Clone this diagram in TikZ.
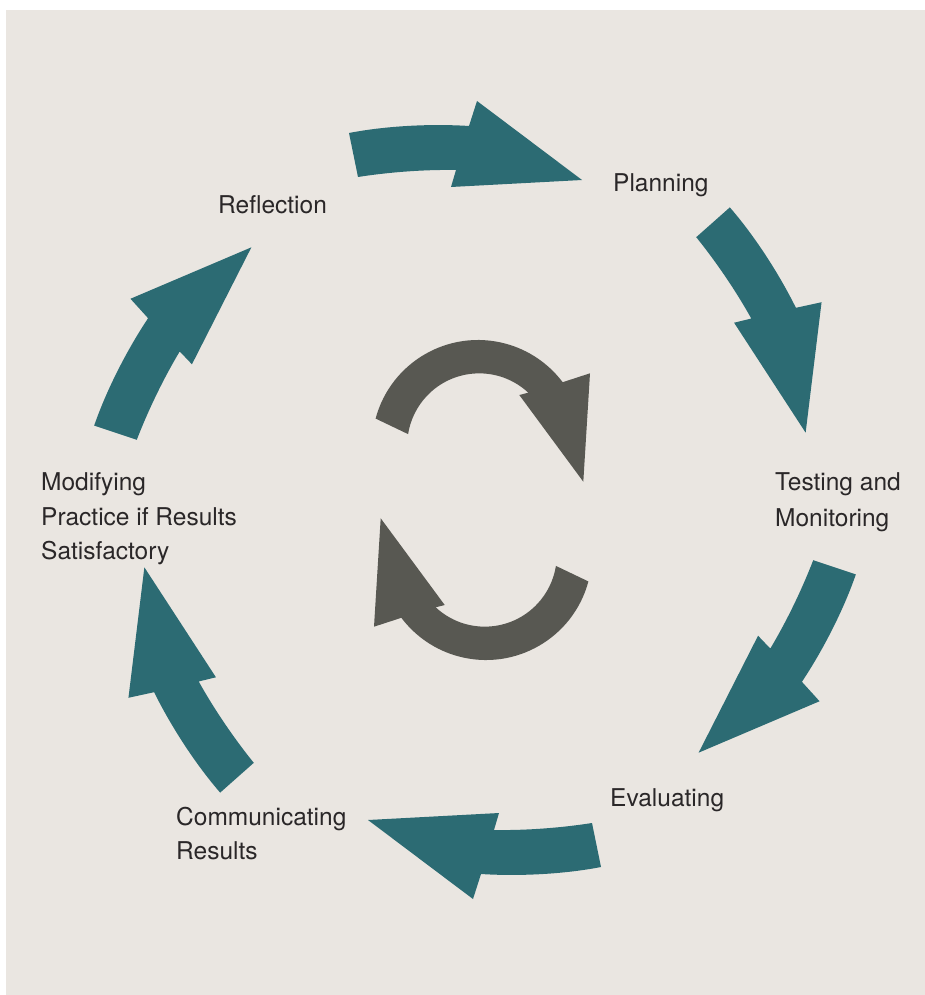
\documentclass[tikz,border=0pt]{standalone}
\usepackage{fontspec}
\setmainfont{TeX Gyre Heros}
\definecolor{bgbeige}{HTML}{EAE6E1}
\definecolor{cyclteal}{HTML}{2C6B73}
\definecolor{cyclgray}{HTML}{585852}
\definecolor{labeltext}{HTML}{2A2728}
\begin{document}
\begin{tikzpicture}[x=1pt,y=1pt,
  lbl/.style={anchor=base west, inner sep=0pt, font=\fontsize{24.5}{34}\selectfont, text=labeltext},
  stagearrow/.style={fill=cyclteal},
  swaparrow/.style={fill=cyclgray}]
\useasboundingbox (0,0) rectangle (925,-995);
\fill[bgbeige] (6,-10) rectangle (925,-995);
\coordinate (ctr) at (475,-500);
\foreach \a in {0,-60,-120,-180,-240,-300} {
  \begin{scope}[rotate around={\a:(ctr)}]
    \fill[stagearrow] (349,-133) .. controls (385,-126) and (430,-123.5) .. (469,-126)
      -- (477,-101) -- (582,-180) -- (451,-187) -- (456,-170)
      .. controls (425,-169.5) and (390,-172) .. (358,-177) -- cycle;
  \end{scope}
}
\coordinate (mid) at (482,-500);
\foreach \a in {0,180} {
  \begin{scope}[rotate around={\a:(mid)}]
    \fill[swaparrow] (478,-446) ++(165:106) arc[start angle=165, end angle=37, radius=106]
      -- (590,-373.3) -- (583.3,-481.7) -- (519.3,-395) -- (528.3,-392.7)
      arc[start angle=47, end angle=171, radius=72] -- cycle;
  \end{scope}
}
\node[lbl] (refl) at (218,-213) {Reflection};
\node[lbl] (plan) at (613,-192) {Planning};
\node[lbl] (test1) at (775,-490) {Testing and};
\node[lbl] (test2) at (775,-526) {Monitoring};
\node[lbl] (mod1) at (41,-490) {Modifying};
\node[lbl] (mod2) at (41,-525) {Practice if Results};
\node[lbl] (mod3) at (41,-559) {Satisfactory};
\node[lbl] (eval) at (610,-806) {Evaluating};
\node[lbl] (comm1) at (176,-825) {Communicating};
\node[lbl] (comm2) at (176,-859) {Results};
\end{tikzpicture}
\end{document}
